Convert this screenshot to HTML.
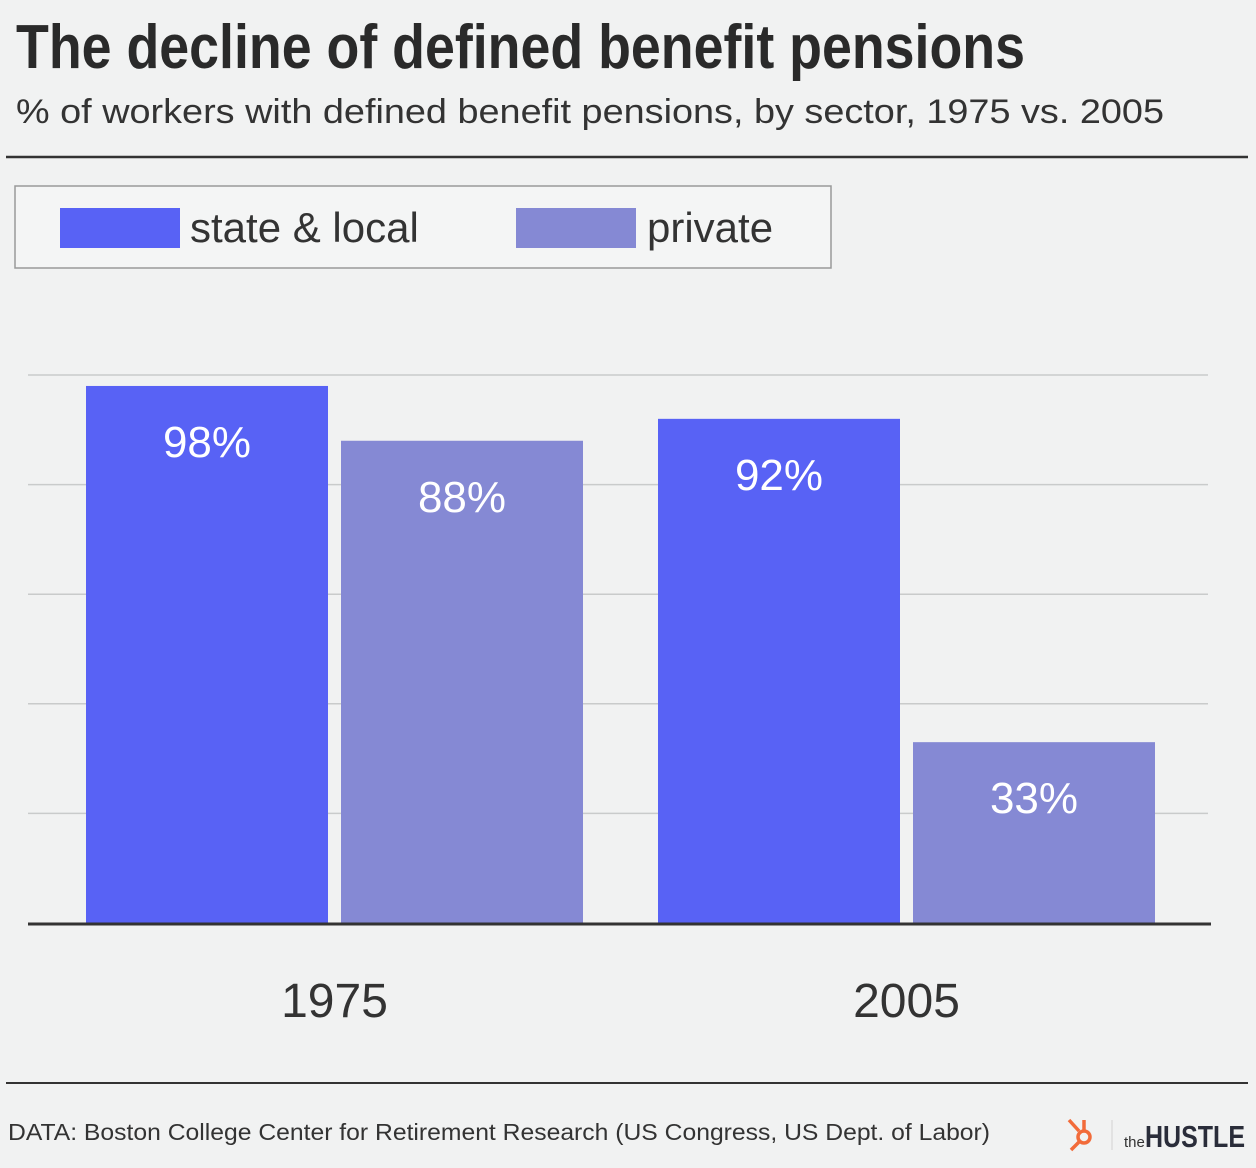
<!DOCTYPE html>
<html><head><meta charset="utf-8"><style>
html,body{margin:0;padding:0;background:#f1f2f2;}
svg{display:block;font-family:"Liberation Sans",sans-serif;}
</style></head><body>
<svg id="chart" width="1256" height="1168" viewBox="0 0 1256 1168">
<rect x="0" y="0" width="1256" height="1168" fill="#f1f2f2"/>
<text x="16" y="68" font-size="62" font-weight="bold" fill="#2a2a2a" textLength="1009" lengthAdjust="spacingAndGlyphs" style="font-family:'Liberation Sans Narrow','Liberation Sans',sans-serif">The decline of defined benefit pensions</text>
<text x="16" y="123" font-size="34" fill="#333" textLength="1148" lengthAdjust="spacingAndGlyphs">% of workers with defined benefit pensions, by sector, 1975 vs. 2005</text>
<line x1="6" y1="157" x2="1248" y2="157" stroke="#333" stroke-width="2.5"/>
<g>
<rect x="15" y="186" width="816" height="82" fill="#f4f5f5" stroke="#999" stroke-width="1.5"/>
<g>
<rect x="60" y="208" width="120" height="40" fill="#5862f5"/>
<text x="190" y="242" font-size="42" fill="#333">state &amp; local</text>
</g>
<g>
<rect x="516" y="208" width="120" height="40" fill="#8589d4"/>
<text x="647" y="242" font-size="42" fill="#333">private</text>
</g>
</g>
<g id="grid"></g>
<g id="bars"></g>
<g id="labels"></g>
<line x1="28" y1="924" x2="1211" y2="924" stroke="#333" stroke-width="3"/>
<line x1="6" y1="1083" x2="1248" y2="1083" stroke="#333" stroke-width="2"/>
<text x="8" y="1140" font-size="23" fill="#333" textLength="982" lengthAdjust="spacingAndGlyphs">DATA: Boston College Center for Retirement Research (US Congress, US Dept. of Labor)</text>
<g stroke="#f26b3a" fill="none" stroke-width="3.5">
<circle cx="1084" cy="1137" r="6"/><line x1="1079" y1="1131" x2="1069" y2="1120"/><line x1="1084" y1="1131" x2="1084" y2="1120"/><line x1="1079" y1="1142" x2="1071" y2="1150"/>
</g>
<line x1="1112" y1="1120" x2="1112" y2="1150" stroke="#ddd" stroke-width="1.5"/>
<text x="1124" y="1147" font-size="15" fill="#333" style="font-family:'Liberation Sans Narrow','Liberation Sans',sans-serif">the</text>
<text x="1145" y="1147" font-size="31" font-weight="bold" fill="#2a2d3a" textLength="100" lengthAdjust="spacingAndGlyphs" style="font-family:'Liberation Sans Narrow','Liberation Sans',sans-serif">HUSTLE</text>
</svg>
<script>
const years = ["1975", "2005"];
const stateLocal = [98, 92];
const privateSector = [88, 33];
const gridTicks = [0, 20, 40, 60, 80, 100];

const NS = "http://www.w3.org/2000/svg";
const y0 = 923, pxPer = 5.48;
function yScale(v){ return y0 - v * pxPer; }
const groupX = [86, 658];
const barW = 242, gap = 13;
function xScale(i, s){ return groupX[i] + s * (barW + gap); }
function mk(tag, attrs, parent){ const e = document.createElementNS(NS, tag); for (const k in attrs) e.setAttribute(k, attrs[k]); parent.appendChild(e); return e; }

const grid = document.getElementById('grid');
gridTicks.forEach(t => {
  if (t === 0) return;
  const l = mk('line', {x1: 28, x2: 1208, y1: yScale(t), y2: yScale(t), stroke: '#c9cbcb', 'stroke-width': 1.5}, grid);
  
  
});

const bars = document.getElementById('bars');
const labels = document.getElementById('labels');
const series = [{vals: stateLocal, color: '#5862f5', key: 'state-local'}, {vals: privateSector, color: '#8589d4', key: 'private'}];
years.forEach((yr, i) => {
  series.forEach((s, si) => {
    const v = s.vals[i];
    const x = xScale(i, si), y = yScale(v);
    const r = mk('rect', {x: x, y: y, width: barW, height: y0 - y + 2, fill: s.color}, bars);
    
    
    const t = mk('text', {x: x + barW / 2, y: y + 71, 'font-size': 44, fill: '#fff', 'text-anchor': 'middle'}, labels);
    t.textContent = v + '%';
    
    
  });
  const yl = mk('text', {x: groupX[i] + barW + gap / 2, y: 1017, 'font-size': 48, fill: '#333', 'text-anchor': 'middle'}, labels);
  yl.textContent = yr;
  
  
});
</script>
</body></html>
